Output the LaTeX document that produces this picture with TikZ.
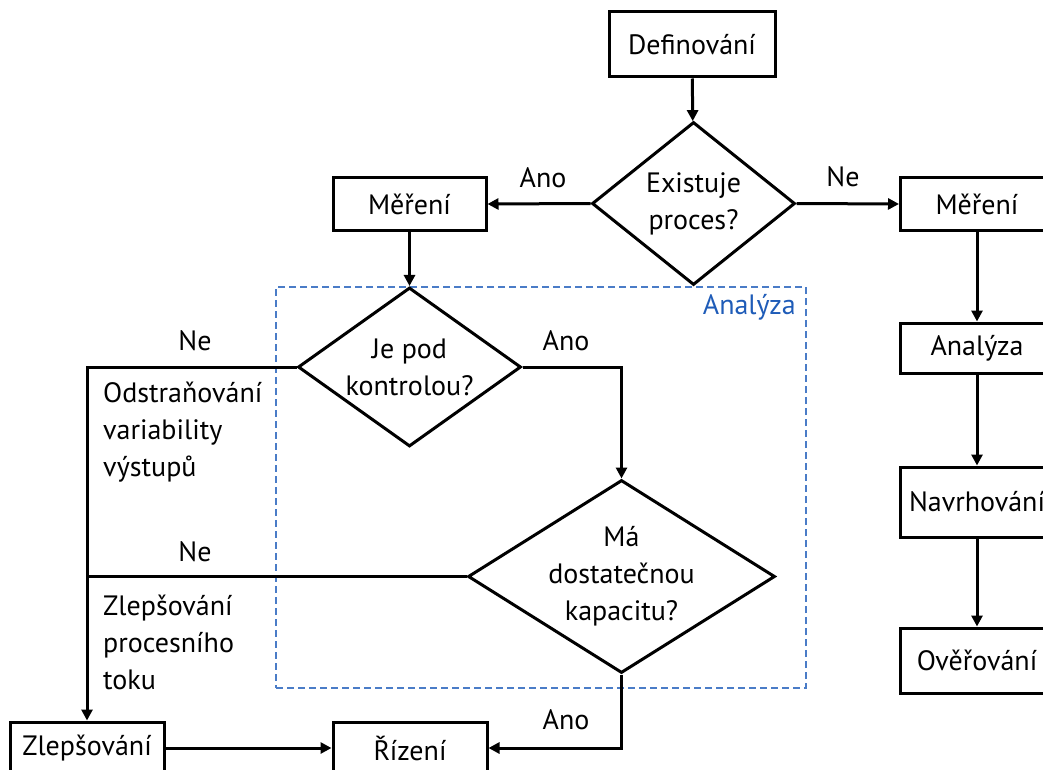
\documentclass[tikz,border=0pt]{standalone}
\usepackage{fontspec}
\setmainfont{PT Sans}
\usetikzlibrary{arrows.meta,shapes.geometric}
\definecolor{blueline}{HTML}{4A7CC7}
\definecolor{bluetext}{HTML}{1F5CB8}
\begin{document}
\begin{tikzpicture}[x=1pt,y=-1pt,
  font=\fontsize{28}{37}\selectfont,
  box/.style={draw,line width=3pt,inner sep=0pt,minimum width=153pt,minimum height=52pt},
  dia/.style={draw,diamond,line width=3pt,inner sep=0pt},
  dtext/.style={align=center,inner sep=0pt},
  conn/.style={line width=3pt},
  arr/.style={conn,-{Triangle[length=11pt,width=11pt]}},
  lbl/.style={inner sep=0pt},
  note/.style={align=left,inner sep=0pt,anchor=west}]
\useasboundingbox (0,0) rectangle (1043,770);

% analysis frame
\node[draw=blueline,line width=1.4pt,dash pattern=on 7pt off 4pt,
      minimum width=530pt,minimum height=401pt,inner sep=0pt] (frame) at (541,487.5) {};
\node[lbl,text=bluetext,anchor=east] (framelbl) at (796,307) {Analýza};

% boxes
\node[box,minimum width=166pt,minimum height=65pt] (def) at (692,44.5) {Definování};
\node[box] (merL) at (409.5,204) {Měření};
\node[box] (merR) at (977,204) {Měření};
\node[box,minimum height=50pt] (anR) at (977,348) {Analýza};
\node[box,minimum height=70pt] (navR) at (977,502) {Navrhování};
\node[box,minimum height=65pt] (overR) at (977,660.5) {Ověřování};
\node[box,minimum width=154pt] (zlep) at (87,748) {Zlepšování};
\node[box,minimum width=154pt] (riz) at (410,748) {Řízení};

% decisions
\node[dia,minimum width=203pt,minimum height=163pt,
      label={[dtext]center:{Existuje\\proces?}}] (d1) at (693.5,203.5) {};
\node[dia,minimum width=223pt,minimum height=159pt,
      label={[dtext]center:{Je pod\\kontrolou?}}] (d2) at (409.5,367) {};
\node[dia,minimum width=307pt,minimum height=193pt,
      label={[dtext]center:{Má\\dostatečnou\\kapacitu?}}] (d3) at (621.5,576.5) {};

% connectors
\draw[arr] (def) -- (d1);
\draw[arr] (d1.west) -- (merL.east);
\draw[arr] (d1.east) -- (merR.west);
\draw[arr] (merR) -- (anR);
\draw[arr] (anR) -- (navR);
\draw[arr] (navR) -- (overR);
\draw[arr] (merL) -- (d2);
\draw[arr] (d2.west) -| (zlep.north);
\draw[arr] (d2.east) -| (d3.north);
\draw[conn] (d3.west) -- (d3.west -| zlep.north);
\draw[arr] (d3.south) |- (riz.east);
\draw[arr] (zlep.east) -- (riz.west);

% branch labels
\node[lbl] (l1) at (543,178) {Ano};
\node[lbl] (l2) at (843,177) {Ne};
\node[lbl] (l3) at (195,341) {Ne};
\node[lbl] (l4) at (566,341) {Ano};
\node[lbl] (l5) at (195,552) {Ne};
\node[lbl] (l6) at (566,720) {Ano};

% notes along the left line
\node[note] (n1) at (103,432) {Odstraňování\\variability\\výstupů};
\node[note] (n2) at (103,642) {Zlepšování\\procesního\\toku};
\end{tikzpicture}
\end{document}
